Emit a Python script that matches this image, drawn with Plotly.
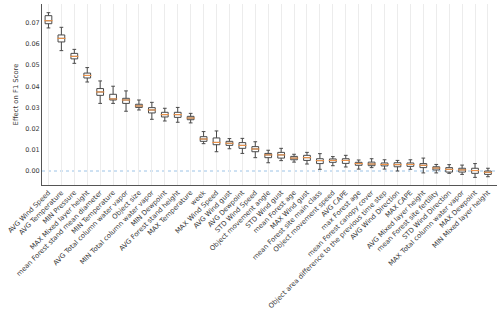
import plotly.graph_objects as go

categories = [
    "AVG Wind Speed", "AVG Temperature", "MIN Pressure", "MAX Mixed layer height",
    "mean Forest stand mean diameter", "MIN Temperature", "AVG Total column water vapor",
    "Object size", "MIN Total column water vapor", "MIN Dewpoint", "AVG Forest stand height",
    "MAX Temperature", "week", "MAX Wind Speed", "AVG Wind gust", "AVG Dewpoint",
    "STD Wind Speed", "Object movement angle", "STD Wind gust", "mean Forest age",
    "MAX Wind gust", "mean Forest site main class", "Object movement speed", "AVG CAPE",
    "max Forest age", "mean Forest canopy cover",
    "Object area difference to the previous time step", "AVG Wind Direction", "MAX CAPE",
    "AVG Mixed layer height", "mean Forest site fertility", "STD Wind Direction",
    "MAX Total column water vapor", "MAX Dewpoint", "MIN Mixed layer height",
]

upper_whisker = [0.0747, 0.0678, 0.0574, 0.0488, 0.0425, 0.0400, 0.0378, 0.0335, 0.0324, 0.0296,
                 0.0300, 0.0272, 0.0186, 0.0189, 0.0153, 0.0154, 0.0138, 0.0098, 0.0107, 0.0079,
                 0.0088, 0.0082, 0.0068, 0.0074, 0.0052, 0.0058, 0.0053, 0.0050, 0.0053, 0.0061,
                 0.0031, 0.0030, 0.0028, 0.0035, 0.0013]
q3 = [0.0733, 0.0642, 0.0555, 0.0462, 0.0389, 0.0362, 0.0343, 0.0315, 0.0299, 0.0277,
      0.0277, 0.0258, 0.0162, 0.0156, 0.0140, 0.0134, 0.0115, 0.0083, 0.0088, 0.0069,
      0.0074, 0.0058, 0.0057, 0.0058, 0.0041, 0.0042, 0.0038, 0.0039, 0.0038, 0.0035,
      0.0020, 0.0016, 0.0013, 0.0013, 0.0000]
median = [0.0709, 0.0626, 0.0541, 0.0451, 0.0373, 0.0340, 0.0335, 0.0307, 0.0288, 0.0266,
          0.0266, 0.0250, 0.0151, 0.0135, 0.0131, 0.0121, 0.0104, 0.0076, 0.0076, 0.0061,
          0.0063, 0.0049, 0.0050, 0.0050, 0.0035, 0.0033, 0.0031, 0.0030, 0.0031, 0.0027,
          0.0014, 0.0008, 0.0005, 0.0002, -0.0006]
q1 = [0.0695, 0.0609, 0.0529, 0.0439, 0.0357, 0.0335, 0.0319, 0.0300, 0.0274, 0.0255,
      0.0253, 0.0242, 0.0140, 0.0124, 0.0121, 0.0107, 0.0091, 0.0063, 0.0061, 0.0053,
      0.0050, 0.0035, 0.0041, 0.0036, 0.0027, 0.0025, 0.0024, 0.0020, 0.0022, 0.0016,
      0.0005, -0.0005, -0.0005, -0.0011, -0.0016]
lower_whisker = [0.0675, 0.0568, 0.0508, 0.0420, 0.0319, 0.0319, 0.0282, 0.0288, 0.0244, 0.0236,
                 0.0230, 0.0227, 0.0129, 0.0091, 0.0105, 0.0083, 0.0063, 0.0039, 0.0049, 0.0042,
                 0.0033, 0.0008, 0.0025, 0.0019, 0.0009, 0.0016, 0.0009, 0.0000, 0.0008, -0.0009,
                 -0.0009, -0.0011, -0.0016, -0.0030, -0.0027]

y_ticks = [0.00, 0.01, 0.02, 0.03, 0.04, 0.05, 0.06, 0.07]

FONT = "DejaVu Sans"
TXT = "#3a3a3a"

fig = go.Figure()
fig.add_trace(go.Box(
    x=categories, q1=q1, median=median, q3=q3,
    lowerfence=lower_whisker, upperfence=upper_whisker,
    fillcolor="white", line=dict(color="#4a4a4a", width=1),
    width=0.52, whiskerwidth=0.55, boxpoints=False, showlegend=False,
    hoverinfo="skip",
))
fig.add_trace(go.Scatter(
    x=categories, y=median, mode="markers",
    marker=dict(symbol="line-ew", size=6, line=dict(color="#fb9a4a", width=1)),
    showlegend=False, hoverinfo="skip",
))
fig.add_hline(y=0, line=dict(color="#9cc3e6", width=1, dash="dot"), layer="below")

fig.update_layout(
    width=500, height=310,
    margin=dict(l=42, r=3, t=4, b=125),
    paper_bgcolor="white", plot_bgcolor="white",
    font=dict(family=FONT, size=6.5, color=TXT),
    xaxis=dict(
        type="category", range=[-0.5, 34.7], tickangle=-45,
        showgrid=True, gridcolor="#ececec", gridwidth=1,
        showline=True, linecolor="#555555", linewidth=1,
        ticks="", automargin=False, tickfont=dict(size=6.8, color=TXT),
    ),
    yaxis=dict(
        range=[-0.0066, 0.0788], tickvals=y_ticks, tickformat=".2f",
        showgrid=False, zeroline=False,
        showline=True, linecolor="#555555", linewidth=1,
        ticks="", automargin=False, tickfont=dict(size=6.5, color=TXT),
        title=dict(text="Effect on F1 Score", font=dict(size=6.8, color=TXT), standoff=5),
    ),
)

fig.write_html("out.html", config={"displayModeBar": False},
               post_script="document.body.style.margin='0';")
